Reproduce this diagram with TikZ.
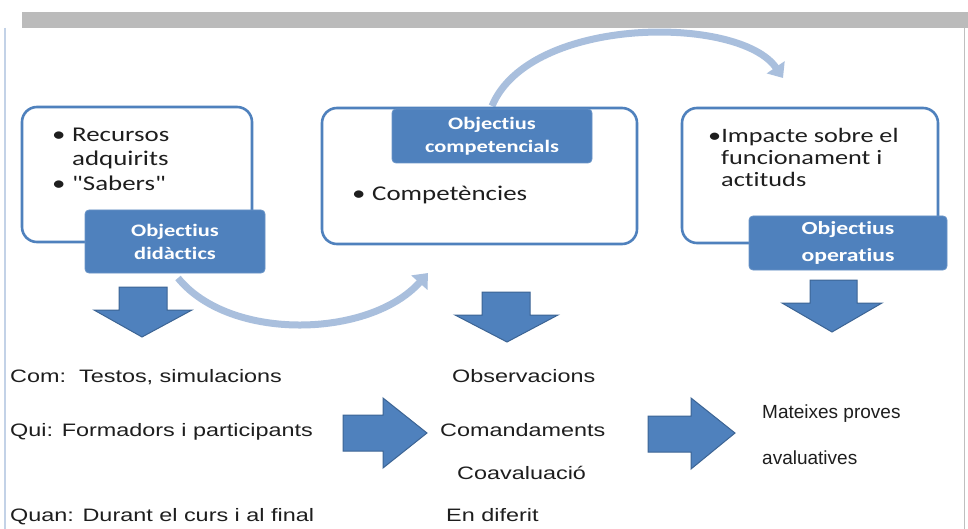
\documentclass[tikz,border=0pt]{standalone}
\usepackage{fontspec}
\usetikzlibrary{arrows.meta}
\newfontfamily\calf[FakeStretch=1.28,Ligatures={NoCommon}]{Carlito}
\newfontfamily\arialw[FakeStretch=1.3]{Liberation Sans}
\newfontfamily\arialn{Liberation Sans}
\definecolor{boxblue}{HTML}{4F81BD}
\definecolor{edgeblue}{HTML}{3C6494}
\definecolor{curveblue}{HTML}{A9BFDD}
\definecolor{barGray}{HTML}{BBBBBB}
\definecolor{txt}{HTML}{1E1E1E}
\tikzset{
  frame/.style={draw=boxblue, line width=2.6pt, rounded corners=15pt, fill=white, minimum width=#1, inner sep=0pt, outer sep=0pt},
  tag/.style={fill=boxblue, draw=boxblue!85!white, line width=0.8pt, rounded corners=4pt, inner sep=0pt, outer sep=0pt, text=white, align=center, font=\calf\bfseries\fontsize{17.5}{23}\selectfont},
  boxtxt/.style={anchor=base west, inner sep=0pt, text=txt, font=\calf\fontsize{21}{24}\selectfont},
  lowtxt/.style={anchor=base west, inner sep=0pt, text=txt, font=\arialw\fontsize{18}{20}\selectfont},
  narrowtxt/.style={anchor=base west, inner sep=0pt, text=txt, font=\arialn\fontsize{19}{22}\selectfont},
  blockarrow/.style={fill=boxblue, draw=edgeblue, line width=1pt, line join=miter},
  curvearrow/.style={draw=curveblue, line width=7pt, -{Triangle[width=21pt,length=13pt]}}
}
\begin{document}
\begin{tikzpicture}[x=1pt,y=-1pt]
\useasboundingbox[fill=white] (0,0) rectangle (968,529);
% page decorations
\fill[barGray] (22,12) rectangle (968,28);
\draw[curveblue!70!white, line width=1.2pt] (5,28) -- (5,529);
\draw[black!25, line width=1pt] (964.5,28) -- (964.5,529);

% curved arrows (behind boxes)
\coordinate (c1s) at (178,278);
\coordinate (c1e) at (428,273);
\coordinate (c2s) at (492,106);
\coordinate (c2e) at (783,78);
\draw[curvearrow] (c1s) .. controls (230,342) and (370,338) .. (c1e);
\draw[curvearrow] (c2s) .. controls (530,15) and (740,15) .. (c2e);

% frames
\node[frame=230pt, minimum height=135pt] (box1) at (137,174.5) {};
\node[frame=315pt, minimum height=136pt] (box2) at (479.5,176) {};
\node[frame=256pt, minimum height=135pt] (box3) at (810,175.5) {};

% tags
\node[tag, minimum width=180pt, minimum height=63pt] (tag1) at (175,241.5) {Objectius\\didàctics};
\node[tag, minimum width=200pt, minimum height=54pt] (tag2) at (492,136) {Objectius\\competencials};
\node[tag, minimum width=198pt, minimum height=54pt, font=\calf\bfseries\fontsize{18.5}{27}\selectfont] (tag3) at (848,243) {Objectius\\operatius};

% box texts
\node[boxtxt] (b1a) at (52,142) {\textbullet};
\node[boxtxt] (t1a) at (72,142) {Recursos};
\node[boxtxt] (t1b) at (72,165.5) {adquirits};
\node[boxtxt] (b1b) at (52,191) {\textbullet};
\node[boxtxt] (t1c) at (72,191) {"Sabers"};
\node[boxtxt] (b2a) at (352,201) {\textbullet};
\node[boxtxt] (t2a) at (372,201) {Competències};
\node[boxtxt, font=\calf\fontsize{20.5}{24}\selectfont] (t3a) at (708,143) {\textbullet Impacte sobre el};
\node[boxtxt, font=\calf\fontsize{20.5}{24}\selectfont] (t3b) at (721,165) {funcionament i};
\node[boxtxt, font=\calf\fontsize{20.5}{24}\selectfont] (t3c) at (721,187) {actituds};

% down block arrows
\draw[blockarrow] (119,287) -- (167,287) -- (167,310) -- (192,310) -- (142,337) -- (94,310) -- (119,310) -- cycle;
\draw[blockarrow] (482,292) -- (530,292) -- (530,315) -- (558,315) -- (507,342) -- (455,315) -- (482,315) -- cycle;
\draw[blockarrow] (810,280) -- (857,280) -- (857,303) -- (882,303) -- (832,332) -- (782,303) -- (810,303) -- cycle;

% right block arrows
\draw[blockarrow] (343,415) -- (383,415) -- (383,398) -- (427,433) -- (383,468) -- (383,451) -- (343,451) -- cycle;
\draw[blockarrow] (648,416) -- (691,416) -- (691,398) -- (735,433) -- (691,469) -- (691,452) -- (648,452) -- cycle;

% lower texts
\node[lowtxt] (com) at (10,382) {Com:\ \ Testos, simulacions};
\node[lowtxt] (qui) at (10,436) {Qui: Formadors i participants};
\node[lowtxt] (quan) at (10,521) {Quan: Durant el curs i al final};
\node[lowtxt] (obs) at (452,382) {Observacions};
\node[lowtxt] (coman) at (440,436) {Comandaments};
\node[lowtxt] (coav) at (457,479) {Coavaluació};
\node[lowtxt] (dif) at (446,521) {En diferit};
\node[narrowtxt] (mat) at (762,418) {Mateixes proves};
\node[narrowtxt] (aval) at (762,464) {avaluatives};
\end{tikzpicture}
\end{document}
